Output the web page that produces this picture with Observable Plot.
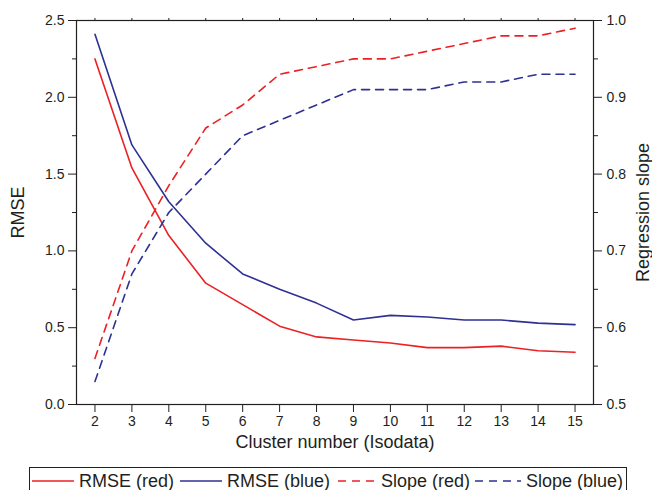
<!DOCTYPE html>
<html>
<head>
<meta charset="utf-8">
<script src="https://cdn.jsdelivr.net/npm/d3@7"></script>
<script src="https://cdn.jsdelivr.net/npm/@observablehq/plot@0.6"></script>
<style>
  body { margin: 0; background: #fff; font-family: "Liberation Sans", Arial, sans-serif; color: #231f20; }
  #wrap { position: relative; width: 652px; height: 490px; overflow: hidden; }
  #legend { position: absolute; left: 29px; top: 467px; width: 598px; height: 28px; box-sizing: border-box;
            border: 1px solid #231f20; font-size: 18px; }
  #legend .item { position: absolute; top: 0; height: 26px; display: flex; align-items: center; }
  #legend svg { display: block; }
  #legend span { margin-left: 5px; white-space: nowrap; }
</style>
</head>
<body>
<div id="wrap"><div id="chart"></div><div id="legend"></div></div>
<script>
// ---- data ----
const clusters  = [2, 3, 4, 5, 6, 7, 8, 9, 10, 11, 12, 13, 14, 15];
const rmseRed   = [2.25, 1.54, 1.10, 0.79, 0.65, 0.51, 0.44, 0.42, 0.40, 0.37, 0.37, 0.38, 0.35, 0.34];
const rmseBlue  = [2.41, 1.69, 1.32, 1.05, 0.85, 0.75, 0.66, 0.55, 0.58, 0.57, 0.55, 0.55, 0.53, 0.52];
const slopeRed  = [0.56, 0.70, 0.785, 0.86, 0.89, 0.93, 0.94, 0.95, 0.95, 0.96, 0.97, 0.98, 0.98, 0.99];
const slopeBlue = [0.53, 0.67, 0.75, 0.80, 0.85, 0.87, 0.89, 0.91, 0.91, 0.91, 0.92, 0.92, 0.93, 0.93];
const rmseTicks = [0, 0.5, 1.0, 1.5, 2.0, 2.5];
const rmseMinor = [0.25, 0.75, 1.25, 1.75, 2.25];
const slopeTicks = [0.5, 0.6, 0.7, 0.8, 0.9, 1.0];
const slopeMinor = [0.55, 0.65, 0.75, 0.85, 0.95];
const seriesNames = ["RMSE (red)", "RMSE (blue)", "Slope (red)", "Slope (blue)"];
const RED = "#ed2024", BLUE = "#2e3192";

// table
const rows = clusters.map((k, i) => ({k, rmseRed: rmseRed[i], rmseBlue: rmseBlue[i], slopeRed: slopeRed[i], slopeBlue: slopeBlue[i]}));
// map slope (0.5..1.0) onto the RMSE scale (0..2.5)
const s2r = s => (s - 0.5) * 5;
const r2s = r => 0.5 + r / 5;

const chart = Plot.plot({
  width: 652,
  height: 462,
  marginLeft: 76,
  marginRight: 59,
  marginTop: 20,
  marginBottom: 58,
  style: {fontFamily: "Liberation Sans, Arial, sans-serif", fontSize: "14px", color: "#231f20", background: "#fff"},
  x: {domain: [1.5, 15.5]},
  y: {domain: [0, 2.5]},
  marks: [
    Plot.axisX({anchor: "bottom", ticks: clusters, tickSize: 8, tickPadding: 4, fontSize: 14, label: null}),
    Plot.axisX({anchor: "top", ticks: clusters, tickSize: 3, text: null, label: null}),
    Plot.axisY({anchor: "left", ticks: rmseTicks, tickSize: 8, tickPadding: 4, fontSize: 14, tickFormat: d3.format(".1f"), label: null}),
    Plot.axisY({anchor: "left", ticks: rmseMinor, tickSize: 4, text: null, label: null}),
    Plot.axisY({anchor: "right", ticks: slopeTicks.map(s2r), tickSize: 8, tickPadding: 5, fontSize: 14, tickFormat: d => r2s(d).toFixed(1), label: null}),
    Plot.axisY({anchor: "right", ticks: slopeMinor.map(s2r), tickSize: 4, text: null, label: null}),
    Plot.frame({stroke: "#231f20", strokeWidth: 1.2}),
    Plot.line(rows, {x: "k", y: "rmseRed", stroke: RED, strokeWidth: 1.6}),
    Plot.line(rows, {x: "k", y: "rmseBlue", stroke: BLUE, strokeWidth: 1.6}),
    Plot.line(rows, {x: "k", y: d => s2r(d.slopeRed), stroke: RED, strokeWidth: 1.6, strokeDasharray: "8,6"}),
    Plot.line(rows, {x: "k", y: d => s2r(d.slopeBlue), stroke: BLUE, strokeWidth: 1.6, strokeDasharray: "8,6"}),
    Plot.text(["RMSE"], {text: d => d, frameAnchor: "left", textAnchor: "middle", rotate: -90, dx: -58, fontSize: 18, fill: "#231f20"}),
    Plot.text(["Regression slope"], {text: d => d, frameAnchor: "right", textAnchor: "middle", rotate: -90, dx: 50, fontSize: 18, fill: "#231f20"}),
    Plot.text(["Cluster number (Isodata)"], {text: d => d, frameAnchor: "bottom", textAnchor: "middle", dy: 43, fontSize: 18, fill: "#231f20"})
  ]
});
document.getElementById("chart").appendChild(chart);

// legend
const legendStyles = [
  {color: RED, dash: null, left: 2, w: 42},
  {color: BLUE, dash: null, left: 150, w: 42},
  {color: RED, dash: "8,6", left: 306, w: 40},
  {color: BLUE, dash: "8,6", left: 443, w: 48}
];
const legend = document.getElementById("legend");
seriesNames.forEach((name, i) => {
  const st = legendStyles[i];
  const item = document.createElement("div");
  item.className = "item";
  item.style.left = st.left + "px";
  item.innerHTML = `<svg width="${st.w}" height="10"><line x1="0" x2="${st.w}" y1="5" y2="5" stroke="${st.color}" stroke-width="1.6" ${st.dash ? `stroke-dasharray="${st.dash}" stroke-dashoffset="-2"` : ""}/></svg><span>${name}</span>`;
  legend.appendChild(item);
});
</script>
</body>
</html>
